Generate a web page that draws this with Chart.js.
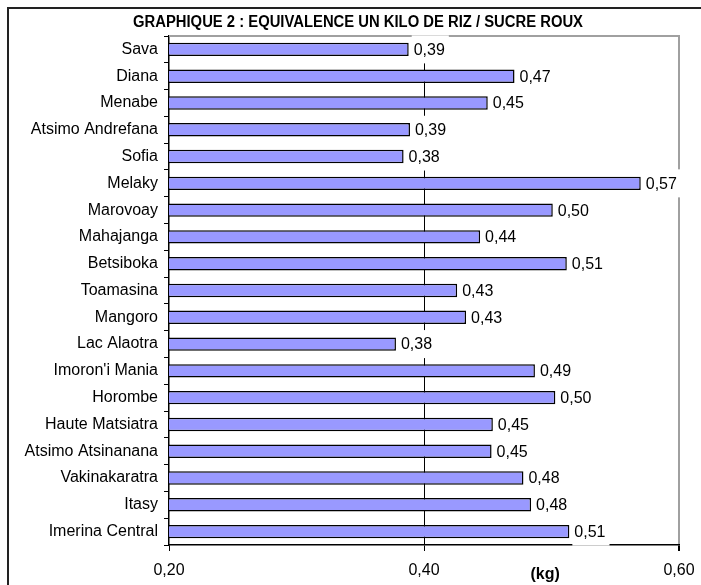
<!DOCTYPE html>
<html>
<head>
<meta charset="utf-8">
<script src="https://cdn.jsdelivr.net/npm/chart.js@4.4.1/dist/chart.umd.min.js"></script>
<style>
  body { margin: 0; background: #fff; }
</style>
</head>
<body>
<canvas id="chart" width="701" height="585"></canvas>
<script>
// regions and rice / brown sugar equivalence (kg)
const regions = ['Sava', 'Diana', 'Menabe', 'Atsimo Andrefana', 'Sofia', 'Melaky', 'Marovoay',
    'Mahajanga', 'Betsiboka', 'Toamasina', 'Mangoro', 'Lac Alaotra', "Imoron'i Mania", 'Horombe',
    'Haute Matsiatra', 'Atsimo Atsinanana', 'Vakinakaratra', 'Itasy', 'Imerina Central'];
const equivalence = [0.388, 0.471, 0.450, 0.389, 0.384, 0.570, 0.501,
    0.444, 0.512, 0.426, 0.433, 0.378, 0.487, 0.503,
    0.454, 0.453, 0.478, 0.484, 0.514];
const xTicks = [0.20, 0.40, 0.60];
const chartTitle = 'GRAPHIQUE 2 : EQUIVALENCE UN KILO DE RIZ / SUCRE ROUX';
const unitLabel = '(kg)';

const FONT = "'Liberation Sans', Arial, sans-serif";

function fmt(v) {
    return v.toFixed(2).replace('.', ',');
}

// Excel-like frame, labels with white boxes, title
const decorPlugin = {
    id: 'decor',
    beforeDraw(chart) {
        const ctx = chart.ctx;
        ctx.save();
        ctx.fillStyle = '#fff';
        ctx.fillRect(0, 0, chart.width, chart.height);
        ctx.strokeStyle = '#222';
        ctx.lineWidth = 2;
        ctx.strokeRect(8, 8, chart.width + 20, chart.height + 20);
        ctx.restore();
    },
    afterDatasetsDraw(chart) {
        const ctx = chart.ctx;
        const area = chart.chartArea;
        ctx.save();
        // top border of plot area
        ctx.strokeStyle = '#a0a0a0';
        ctx.lineWidth = 2;
        ctx.beginPath();
        ctx.moveTo(area.left, area.top);
        ctx.lineTo(area.right + 1, area.top);
        ctx.stroke();

        // value labels
        ctx.font = '16px ' + FONT;
        ctx.textBaseline = 'middle';
        ctx.textAlign = 'left';
        const meta = chart.getDatasetMeta(0);
        meta.data.forEach((bar, i) => {
            const txt = fmt(equivalence[i]);
            const w = ctx.measureText(txt).width;
            const x = bar.x + 5;
            ctx.fillStyle = '#fff';
            ctx.fillRect(x - 2, bar.y - 14, w + 6, 28);
            ctx.fillStyle = '#000';
            ctx.fillText(txt, x, bar.y + 1);
        });
        ctx.restore();
    },
    afterDraw(chart) {
        const ctx = chart.ctx;
        ctx.save();
        // title, condensed like the original
        ctx.font = 'bold 16px ' + FONT;
        ctx.textBaseline = 'middle';
        ctx.textAlign = 'left';
        const tw = ctx.measureText(chartTitle).width;
        const targetW = 450;
        const sx = targetW / tw;
        ctx.translate(358 - targetW / 2, 23);
        ctx.scale(sx, 1);
        ctx.fillStyle = '#000';
        ctx.fillText(chartTitle, 0, 0);
        ctx.restore();

        // unit label
        const xs = chart.scales.x;
        ctx.save();
        ctx.font = 'bold 16px ' + FONT;
        ctx.textAlign = 'center';
        ctx.textBaseline = 'middle';
        ctx.fillStyle = '#000';
        ctx.fillText(unitLabel, xs.getPixelForValue(0.495), 575);
        ctx.restore();
    }
};

new Chart(document.getElementById('chart'), {
    type: 'bar',
    data: {
        labels: regions,
        datasets: [{
            data: equivalence,
            backgroundColor: '#9999ff',
            borderColor: '#000',
            borderWidth: 1.5,
            borderSkipped: false,
            barPercentage: 0.5,
            categoryPercentage: 1
        }]
    },
    options: {
        indexAxis: 'y',
        responsive: false,
        animation: false,
        layout: { padding: { top: 36, right: 22, left: 0, bottom: 0 } },
        plugins: {
            legend: { display: false },
            tooltip: { enabled: false },
            title: { display: false }
        },
        scales: {
            x: {
                min: xTicks[0],
                max: xTicks[xTicks.length - 1],
                afterBuildTicks(scale) {
                    scale.ticks = xTicks.map(v => ({ value: v }));
                },
                afterFit(scale) {
                    scale.height = 40;
                    scale.paddingLeft = 0;
                    scale.paddingRight = 0;
                },
                border: { display: true, color: '#000', width: 1.5 },
                grid: {
                    drawOnChartArea: true,
                    drawTicks: true,
                    tickLength: 6,
                    tickColor: '#000',
                    color: ctx => {
                        const v = ctx.tick ? ctx.tick.value : null;
                        if (v === 0.4) return '#000';
                        if (v === 0.6) return '#a0a0a0';
                        return 'rgba(0,0,0,0)';
                    },
                    lineWidth: ctx => (ctx.tick && ctx.tick.value === 0.6 ? 2 : 1)
                },
                ticks: {
                    color: '#000',
                    font: { family: FONT, size: 16 },
                    padding: 10,
                    maxRotation: 0,
                    callback: v => fmt(v)
                }
            },
            y: {
                afterFit(scale) { scale.width = 169; },
                border: { display: true, color: '#000', width: 1.5 },
                grid: {
                    drawOnChartArea: false,
                    drawTicks: true,
                    tickLength: 5,
                    color: '#000',
                    offset: true
                },
                ticks: {
                    color: '#000',
                    font: { family: FONT, size: 16 },
                    padding: 6,
                    autoSkip: false
                }
            }
        }
    },
    plugins: [decorPlugin]
});
</script>
</body>
</html>
